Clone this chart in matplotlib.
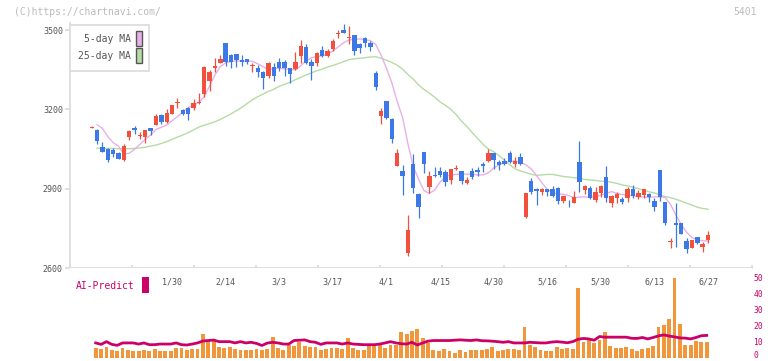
import numpy as np
import matplotlib.pyplot as plt
from matplotlib.patches import Rectangle

plt.rcParams['font.family'] = ['DejaVu Sans Mono']

# daily candles, 2025/1/8 .. 2025/6/27 (index 0..115)
opens = [3131, 3123, 3056, 3051, 3046, 3036, 3008, 3097, 3130, 3100,
         3094, 3129, 3140, 3177, 3153, 3182, 3223, 3197, 3204, 3204,
         3224, 3258, 3307, 3358, 3376, 3452, 3405, 3409, 3386, 3390,
         3362, 3357, 3342, 3326, 3361, 3380, 3380, 3356, 3352, 3402,
         3437, 3379, 3376, 3424, 3402, 3427, 3483, 3500, 3470, 3481,
         3447, 3469, 3452, 3339, 3175, 3231, 3162, 2987, 2968, 2658,
         2993, 2880, 3039, 2907, 2951, 2967, 2962, 2933, 2975, 2967,
         2923, 2967, 2971, 2994, 3005, 3036, 3002, 3005, 3036, 2993,
         3021, 2794, 2929, 2898, 2889, 2899, 2899, 2901, 2854, 2851,
         2847, 3002, 2895, 2901, 2857, 2885, 2945, 2847, 2866, 2860,
         2864, 2899, 2870, 2875, 2881, 2853, 2971, 2848, 2698, 2769,
         2769, 2702, 2677, 2718, 2681, 2706]
closes = [3135, 3081, 3040, 3010, 3032, 3013, 3061, 3118, 3122, 3104,
          3122, 3119, 3175, 3152, 3185, 3216, 3227, 3181, 3181, 3223,
          3227, 3359, 3340, 3363, 3390, 3378, 3379, 3386, 3380, 3378,
          3366, 3342, 3320, 3376, 3326, 3357, 3357, 3333, 3380, 3439,
          3376, 3365, 3412, 3402, 3420, 3458, 3487, 3490, 3474, 3422,
          3433, 3450, 3437, 3286, 3195, 3168, 3087, 3036, 2948, 2744,
          2904, 2832, 2994, 2948, 2947, 2952, 2926, 2973, 2979, 2930,
          2933, 2945, 2964, 2987, 3036, 3008, 2991, 2994, 3002, 3006,
          2993, 2882, 2888, 2893, 2899, 2889, 2873, 2854, 2872, 2848,
          2867, 2926, 2910, 2866, 2888, 2910, 2864, 2872, 2880, 2850,
          2899, 2872, 2882, 2899, 2870, 2830, 2870, 2771, 2703, 2764,
          2729, 2671, 2706, 2696, 2691, 2725]
highs = [3136, 3125, 3076, 3054, 3054, 3038, 3068, 3123, 3137, 3113,
         3122, 3129, 3182, 3182, 3201, 3216, 3244, 3200, 3210, 3238,
         3263, 3362, 3349, 3393, 3405, 3452, 3409, 3409, 3405, 3392,
         3374, 3367, 3346, 3380, 3374, 3395, 3386, 3356, 3418, 3462,
         3447, 3389, 3416, 3439, 3428, 3465, 3500, 3523, 3515, 3481,
         3450, 3473, 3460, 3345, 3206, 3231, 3168, 3050, 2991, 2800,
         3031, 2885, 3039, 2967, 2983, 2983, 2971, 2973, 2989, 2967,
         2943, 2978, 2983, 3000, 3049, 3036, 3009, 3015, 3043, 3021,
         3036, 2882, 2939, 2901, 2903, 2899, 2910, 2905, 2872, 2857,
         2891, 3080, 2914, 2910, 2905, 2914, 2986, 2876, 2888, 2867,
         2908, 2914, 2895, 2899, 2882, 2866, 2971, 2848, 2715, 2847,
         2769, 2715, 2706, 2718, 2700, 2741]
lows = [3130, 3070, 3038, 3002, 3021, 3011, 3005, 3084, 3105, 3089,
        3074, 3103, 3140, 3145, 3147, 3182, 3204, 3179, 3160, 3197,
        3219, 3247, 3269, 3340, 3376, 3364, 3355, 3360, 3364, 3372,
        3342, 3323, 3276, 3320, 3307, 3345, 3326, 3301, 3349, 3374,
        3370, 3311, 3364, 3397, 3397, 3422, 3468, 3490, 3447, 3405,
        3414, 3437, 3420, 3273, 3145, 3165, 3074, 2987, 2876, 2645,
        2885, 2790, 2958, 2882, 2945, 2945, 2910, 2918, 2971, 2918,
        2918, 2937, 2948, 2964, 3002, 2973, 2971, 2990, 2998, 2983,
        2990, 2790, 2879, 2838, 2876, 2871, 2870, 2842, 2847, 2832,
        2847, 2888, 2880, 2862, 2850, 2867, 2851, 2832, 2845, 2842,
        2851, 2865, 2860, 2865, 2851, 2817, 2855, 2764, 2674, 2681,
        2729, 2658, 2675, 2690, 2662, 2696]

# moving averages as drawn (index 1..115)
ma5 = [3142, 3128, 3097, 3074, 3061, 3030, 3034, 3049, 3068, 3087,
       3103, 3124, 3132, 3141, 3157, 3173, 3190, 3206, 3216, 3226,
       3248, 3288, 3330, 3362, 3376, 3381, 3383, 3383, 3383, 3381,
       3372, 3361, 3350, 3354, 3355, 3353, 3351, 3349, 3365, 3383,
       3395, 3400, 3402, 3410, 3420, 3436, 3452, 3462, 3466, 3466,
       3463, 3460, 3445, 3405, 3355, 3300, 3230, 3170, 3070, 2983,
       2935, 2893, 2882, 2895, 2925, 2945, 2952, 2954, 2955, 2955,
       2954, 2952, 2952, 2960, 2978, 2990, 2998, 3004, 3004, 3000,
       2990, 2975, 2950, 2922, 2898, 2885, 2880, 2879, 2874, 2866,
       2868, 2869, 2867, 2870, 2875, 2882, 2889, 2882, 2878, 2876,
       2873, 2870, 2868, 2867, 2869, 2869, 2867, 2840, 2800, 2765,
       2735, 2715, 2706, 2703, 2702]
ma25 = [3053, 3053, 3052, 3052, 3051, 3051, 3051, 3052, 3054, 3057,
        3061, 3065, 3071, 3078, 3087, 3095, 3103, 3112, 3122, 3133,
        3140, 3146, 3153, 3162, 3172, 3183, 3195, 3207, 3222, 3236,
        3248, 3258, 3268, 3276, 3287, 3295, 3302, 3312, 3321, 3330,
        3338, 3346, 3352, 3360, 3366, 3373, 3380, 3388, 3391, 3393,
        3395, 3398, 3399, 3393, 3386, 3377, 3367, 3352, 3332, 3314,
        3292, 3275, 3261, 3246, 3228, 3215, 3200, 3180, 3155, 3135,
        3112, 3090, 3068, 3050, 3040, 3025, 3008, 2990, 2975, 2967,
        2961, 2955, 2950, 2952, 2954, 2954, 2950, 2946, 2944, 2941,
        2939, 2935, 2933, 2931, 2929, 2927, 2924, 2920, 2914, 2910,
        2905, 2900, 2894, 2888, 2884, 2876, 2870, 2866, 2860, 2853,
        2845, 2838, 2830, 2825, 2822]

# AI-Predict panel (index 1..115)
pred_bar = [5.9, 5.3, 6.8, 4.7, 4.1, 5.9, 4.9, 4.1, 4.1, 4.7,
            4.1, 5.3, 4.1, 4.1, 4.1, 5.9, 5.9, 4.7, 5.3, 5.3,
            14.7, 10.9, 10.9, 6.6, 5.9, 6.6, 5.3, 4.7, 4.7, 4.8,
            5.3, 4.7, 5.3, 12.8, 5.9, 4.7, 7.8, 7.0, 9.5, 7.0,
            6.6, 6.6, 4.9, 5.3, 5.9, 5.9, 5.3, 12.2, 5.9, 4.7,
            4.7, 7.0, 7.0, 7.6, 5.9, 7.8, 7.8, 16.1, 14.7, 16.8,
            17.8, 12.2, 9.1, 4.7, 4.3, 5.3, 4.1, 2.8, 4.7, 3.2,
            4.7, 4.7, 4.7, 5.3, 6.6, 4.1, 4.7, 5.3, 5.3, 4.7,
            19.1, 7.8, 6.6, 4.7, 4.1, 4.1, 6.6, 5.3, 5.9, 5.4,
            43.4, 9.7, 10.9, 9.1, 10.9, 15.9, 7.2, 5.9, 5.9, 6.6,
            5.3, 4.1, 5.3, 5.9, 7.2, 19.1, 20.3, 24.1, 49.7, 20.9,
            7.8, 7.8, 10.3, 9.7, 9.5]
pred_line = [9.1, 8.2, 9.9, 8.2, 7.6, 9.1, 9.1, 9.1, 8.4, 9.1,
             8.0, 8.0, 8.4, 8.4, 8.4, 9.1, 8.0, 7.8, 8.4, 9.1,
             10.3, 10.6, 10.9, 9.9, 9.9, 9.9, 9.1, 9.9, 9.1, 9.5,
             8.8, 7.5, 9.0, 9.5, 9.1, 8.4, 8.4, 10.6, 10.8, 11.0,
             9.9, 9.5, 8.2, 9.1, 9.1, 9.1, 8.4, 9.1, 8.4, 8.2,
             8.0, 8.0, 8.0, 8.4, 9.1, 9.9, 9.1, 8.6, 8.4, 9.5,
             7.8, 9.1, 10.2, 10.6, 10.6, 10.6, 10.6, 10.8, 11.0, 10.8,
             10.6, 11.0, 10.5, 10.4, 10.2, 9.9, 9.5, 9.9, 9.1, 9.1,
             9.1, 9.5, 9.3, 9.1, 9.1, 9.6, 9.9, 9.6, 9.2, 9.9,
             11.4, 11.9, 11.6, 10.8, 13.1, 12.7, 12.7, 12.7, 12.7, 12.7,
             12.0, 11.9, 12.5, 11.6, 12.5, 13.5, 14.1, 13.4, 12.9, 12.2,
             12.1, 11.6, 12.5, 13.6, 13.8]

date_labels = ["1/30", "2/14", "3/3", "3/17", "4/1", "4/15",
               "4/30", "5/16", "5/30", "6/13", "6/27"]
date_idx = [15, 25, 35, 45, 55, 65, 75, 85, 95, 105, 115]

red = '#f0503c'
blue = '#3c78e6'
pink = '#e8b0e8'
green = '#b4dca4'
grid = '#dddddd'
magenta = '#cc0066'

W, H = 772, 361
fig = plt.figure(figsize=(W / 100, H / 100), dpi=100)


def fx(px):
    return px / W


def fy(py):
    return 1 - py / H


xmin, xmax = -4.05, 123.2
ymin, ymax = 2600, 3525
ax = fig.add_axes([fx(70), fy(268), fx(682), (ymax - ymin) * 0.26444 / H])
o = np.array(opens)
c = np.array(closes)
x = np.arange(len(c))
cols = np.where(c >= o, red, blue)

ax.plot(x[1:], ma25, color=green, lw=1.0, zorder=1)
ax.plot(x[1:], ma5, color=pink, lw=1.0, zorder=1)
ax.vlines(x, lows, highs, colors=cols, lw=0.9, zorder=2)
ax.bar(x, np.maximum(np.abs(c - o), 3), bottom=np.minimum(o, c), width=0.82,
       color=cols, zorder=3)

ax.set_xlim(xmin, xmax)
ax.set_ylim(ymin, ymax)
for s in ['top', 'right']:
    ax.spines[s].set_visible(False)
for s in ['left', 'bottom']:
    ax.spines[s].set_color(grid)
    ax.spines[s].set_linewidth(1.3)
ax.set_yticks([2600, 2900, 3200, 3500])
ax.set_xticks(np.linspace(xmin, xmax, 12))
ax.tick_params(axis='y', length=3.6, width=1.3, color=grid, pad=1.5,
               labelsize=6, labelcolor='#555555')
ax.tick_params(axis='x', direction='in', length=2.5, width=1.3, color=grid,
               labelbottom=False)

# legend box
fig.patches.append(Rectangle((fx(70), fy(71)), fx(78.7), 46 / H, transform=fig.transFigure,
                             facecolor='white', edgecolor=grid, lw=1.3, zorder=5))
for label, colr, yc in [('5-day MA', pink, 38.5), ('25-day MA', green, 55.8)]:
    fig.text(fx(131), fy(yc), label, ha='right', va='center', fontsize=7,
             color='#555555', zorder=6)
    fig.patches.append(Rectangle((fx(136.3), fy(yc + 7.5)), fx(6), 15 / H,
                                 transform=fig.transFigure, facecolor=colr,
                                 edgecolor='#555555', lw=1.0, zorder=6))

# AI-Predict panel
ax2 = fig.add_axes([fx(70), fy(357.5), fx(682), 89.5 / H])
xb = np.arange(1, len(pred_bar) + 1) - 0.25
ax2.bar(xb, pred_bar, width=0.72, color='#f0963c', zorder=1)
ax2.plot(xb, pred_line, color=magenta, lw=2.0, zorder=2)
ax2.set_xlim(xmin, xmax)
ax2.set_ylim(0, 55.9)
for s in ax2.spines.values():
    s.set_visible(False)
ax2.set_xticks([])
ax2.yaxis.tick_right()
ax2.set_yticks([0, 10, 20, 30, 40, 50])
ax2.tick_params(axis='y', length=0, pad=1, labelsize=5.8, labelcolor=magenta)
ax2.get_yticklabels()[0].set_va('baseline')
for i, lbl in zip(date_idx, date_labels):
    ax2.text(i, 47.2, lbl, ha='center', va='center', fontsize=6, color='#555555')

fig.text(fx(76), fy(286), 'AI-Predict', va='center', fontsize=7, color=magenta)
fig.patches.append(Rectangle((fx(142.3), fy(292.7)), fx(6.7), 15.4 / H,
                             transform=fig.transFigure, facecolor=magenta, lw=0))

fig.text(fx(14), fy(12), '(C)https://chartnavi.com/', va='center', fontsize=7,
         color='#bbbbbb')
fig.text(fx(757), fy(12), '5401', ha='right', va='center', fontsize=7,
         color='#bbbbbb')

fig.savefig('out.png', dpi=100)
